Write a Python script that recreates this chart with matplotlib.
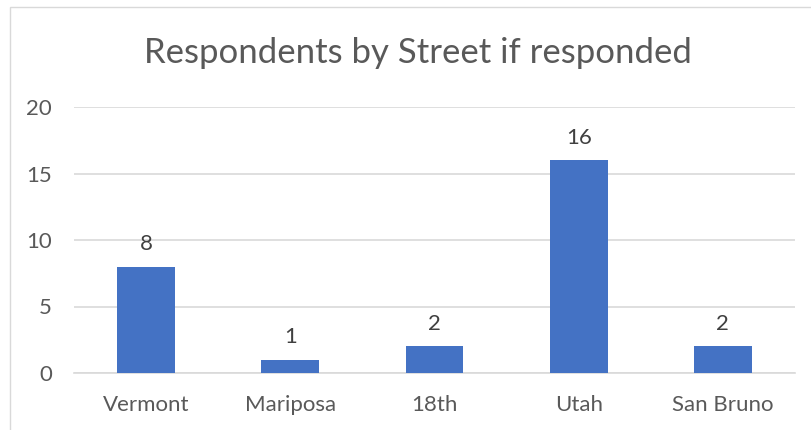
import matplotlib
matplotlib.use("Agg")
import matplotlib.pyplot as plt
from matplotlib.patches import Rectangle

categories = ["Vermont", "Mariposa", "18th", "Utah", "San Bruno"]
values = [8, 1, 2, 16, 2]
y_ticks = [0, 5, 10, 15, 20]
title = "Respondents by Street if responded"

plt.rcParams['font.family'] = ['Lato', 'DejaVu Sans']

W, H = 811, 430
fig = plt.figure(figsize=(W / 100, H / 100), dpi=100)
fig.patch.set_facecolor("white")

# chart area border (cropped on right/bottom)
fig.add_artist(Rectangle((10 / W, -0.05), 1.2, 1 - 7 / H + 0.05, transform=fig.transFigure,
                         fill=False, edgecolor="#D9D9D9", linewidth=1))

ax = fig.add_axes([74 / W, 1 - 373 / H, (795 - 74) / W, (373 - 107) / H])
x = list(range(len(categories)))
bars = ax.bar(x, values, width=0.4, color="#4472C4", zorder=3)
ax.set_xlim(-0.5, len(categories) - 0.5)
ax.set_ylim(0, 20)
ax.set_yticks(y_ticks)
ax.set_xticks(x)
ax.set_xticklabels(categories)
ax.grid(axis="y", color="#D9D9D9", linewidth=1.2, zorder=0)
for s in ["top", "right", "left"]:
    ax.spines[s].set_visible(False)
ax.spines["bottom"].set_color("#D9D9D9")
ax.spines["bottom"].set_linewidth(1.2)
ax.tick_params(axis="both", length=0, colors="#595959", labelsize=16)
ax.tick_params(axis="y", pad=16)
ax.tick_params(axis="x", pad=16)

for xi, v in zip(x, values):
    ax.annotate(str(v), (xi, v), xytext=(0, 9), textcoords="offset points",
                ha="center", va="bottom", fontsize=16, color="#404040")

fig.text(418 / W, 1 - 53 / H, title, ha="center", va="center", fontsize=25, color="#595959")

fig.savefig("out.png", dpi=100, facecolor="white")
